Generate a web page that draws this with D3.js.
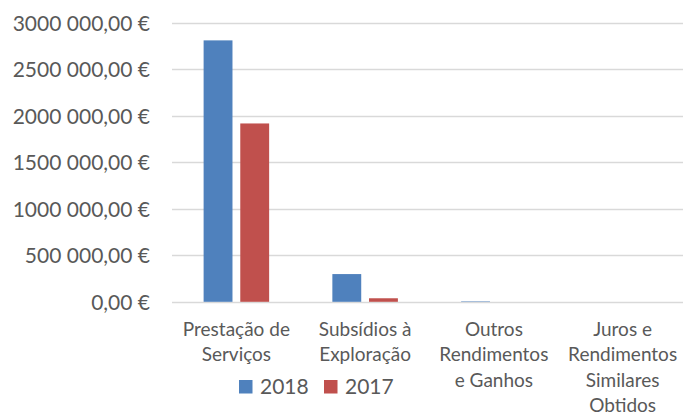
<!DOCTYPE html>
<html>
<head>
<meta charset="utf-8">
<script src="https://cdn.jsdelivr.net/npm/d3@7"></script>
<style>
  body { margin: 0; background: #fff; }
  text { font-family: Lato, "Open Sans", sans-serif; fill: #595959; }
</style>
</head>
<body>
<div id="chart"></div>
<script>
// chart values
const categories = [ "Prestação de Serviços", "Subsídios à Exploração", "Outros Rendimentos e Ganhos", "Juros e Rendimentos Similares Obtidos" ];
const series = [ "2018", "2017" ];
const values2018 = [ 2810000, 298000, 5000, 0 ];
const values2017 = [ 1917000, 38000, 0, 0 ];
const yTicks = [ 0, 500000, 1000000, 1500000, 2000000, 2500000, 3000000 ];
const yTickLabels = [ "0,00 €", "500 000,00 €", "1000 000,00 €", "1500 000,00 €", "2000 000,00 €", "2500 000,00 €", "3000 000,00 €" ];
const colors = [ "#4f81bd", "#c0504d" ];

const width = 683, height = 414;

const svg = d3.select( "#chart" )
  .append( "svg" )
  .attr( "width", width )
  .attr( "height", height );

// scales
const x = d3.scaleBand()
  .domain( categories )
  .range( [ 172, 687 ] );

const y = d3.scaleLinear()
  .domain( [ 0, 3000000 ] )
  .range( [ 301.8, 22.7 ] );

// excel style gap width / overlap
const gapWidth = 2.19, overlap = -0.27;
const barW = x.bandwidth() / ( 2 - overlap + gapWidth );
const groupOffset = barW * gapWidth / 2;

// gridlines
svg.append( "g" )
  .selectAll( "line" )
  .data( yTicks )
  .enter()
  .append( "line" )
    .attr( "x1", 172 )
    .attr( "x2", width )
    .attr( "y1", d => Math.round( y( d ) ) + 0.5 )
    .attr( "y2", d => Math.round( y( d ) ) + 0.5 )
    .attr( "stroke", "#d9d9d9" )
    .attr( "stroke-width", 1.3 );

// y axis labels
const yAxis = d3.axisLeft( y )
  .tickValues( yTicks )
  .tickSize( 0 )
  .tickPadding( 0 )
  .tickFormat( ( d, i ) => yTickLabels[ i ] );

const gy = svg.append( "g" )
  .attr( "transform", "translate(150,0)" )
  .call( yAxis );
gy.select( ".domain" ).remove();
gy.selectAll( "text" )
  .attr( "dy", "0.36em" )
  .style( "font-size", "21px" )
  .style( "font-family", "Lato, sans-serif" )
  .attr( "fill", "#595959" );

// bars
const rows = categories.map( ( c, i ) => ( { cat: c, vals: [ values2018[ i ], values2017[ i ] ] } ) );

const groups = svg.append( "g" )
  .selectAll( "g" )
  .data( rows )
  .enter()
  .append( "g" )
  .attr( "transform", d => "translate(" + ( x( d.cat ) + groupOffset ) + ",0)" );

groups.selectAll( "rect" )
  .data( d => d.vals )
  .enter()
  .append( "rect" )
    .attr( "x", ( d, i ) => i * barW * ( 1 - overlap ) )
    .attr( "width", barW )
    .attr( "y", d => y( d ) )
    .attr( "height", d => y( 0 ) - y( d ) )
    .attr( "fill", ( d, i ) => colors[ i ] );

// category labels, wrapped to the band
const lineH = 25.5;
const maxW = x.bandwidth() - 6;

const labels = svg.append( "g" )
  .selectAll( "text" )
  .data( categories )
  .enter()
  .append( "text" )
    .attr( "x", d => x( d ) + x.bandwidth() / 2 )
    .attr( "y", 335.7 )
    .attr( "text-anchor", "middle" )
    .style( "font-size", "19px" );

labels.each( function( d ) {
  const t = d3.select( this );
  const words = d.split( " " );
  let line = [];
  let lines = [];
  let tspan = t.append( "tspan" );
  words.forEach( w => {
    const test = line.concat( w ).join( " " );
    tspan.text( test );
    if( tspan.node().getComputedTextLength() > maxW && line.length ) {
      lines.push( line.join( " " ) );
      line = [ w ];
    } else {
      line.push( w );
    }
  } );
  lines.push( line.join( " " ) );
  tspan.remove();
  lines.forEach( ( l, i ) => {
    t.append( "tspan" )
      .attr( "x", x( d ) + x.bandwidth() / 2 )
      .attr( "dy", i === 0 ? 0 : lineH )
      .text( l );
  } );
} );

// legend
const legendX = [ 239, 324 ];
const legend = svg.append( "g" )
  .selectAll( "g" )
  .data( series )
  .enter()
  .append( "g" )
  .attr( "transform", ( d, i ) => "translate(" + legendX[ i ] + ",380)" );

legend.append( "rect" )
  .attr( "width", 13.5 )
  .attr( "height", 13.5 )
  .attr( "fill", ( d, i ) => colors[ i ] );

legend.append( "text" )
  .attr( "x", 21 )
  .attr( "y", 14 )
  .style( "font-size", "21px" )
  .text( d => d );
</script>
</body>
</html>
